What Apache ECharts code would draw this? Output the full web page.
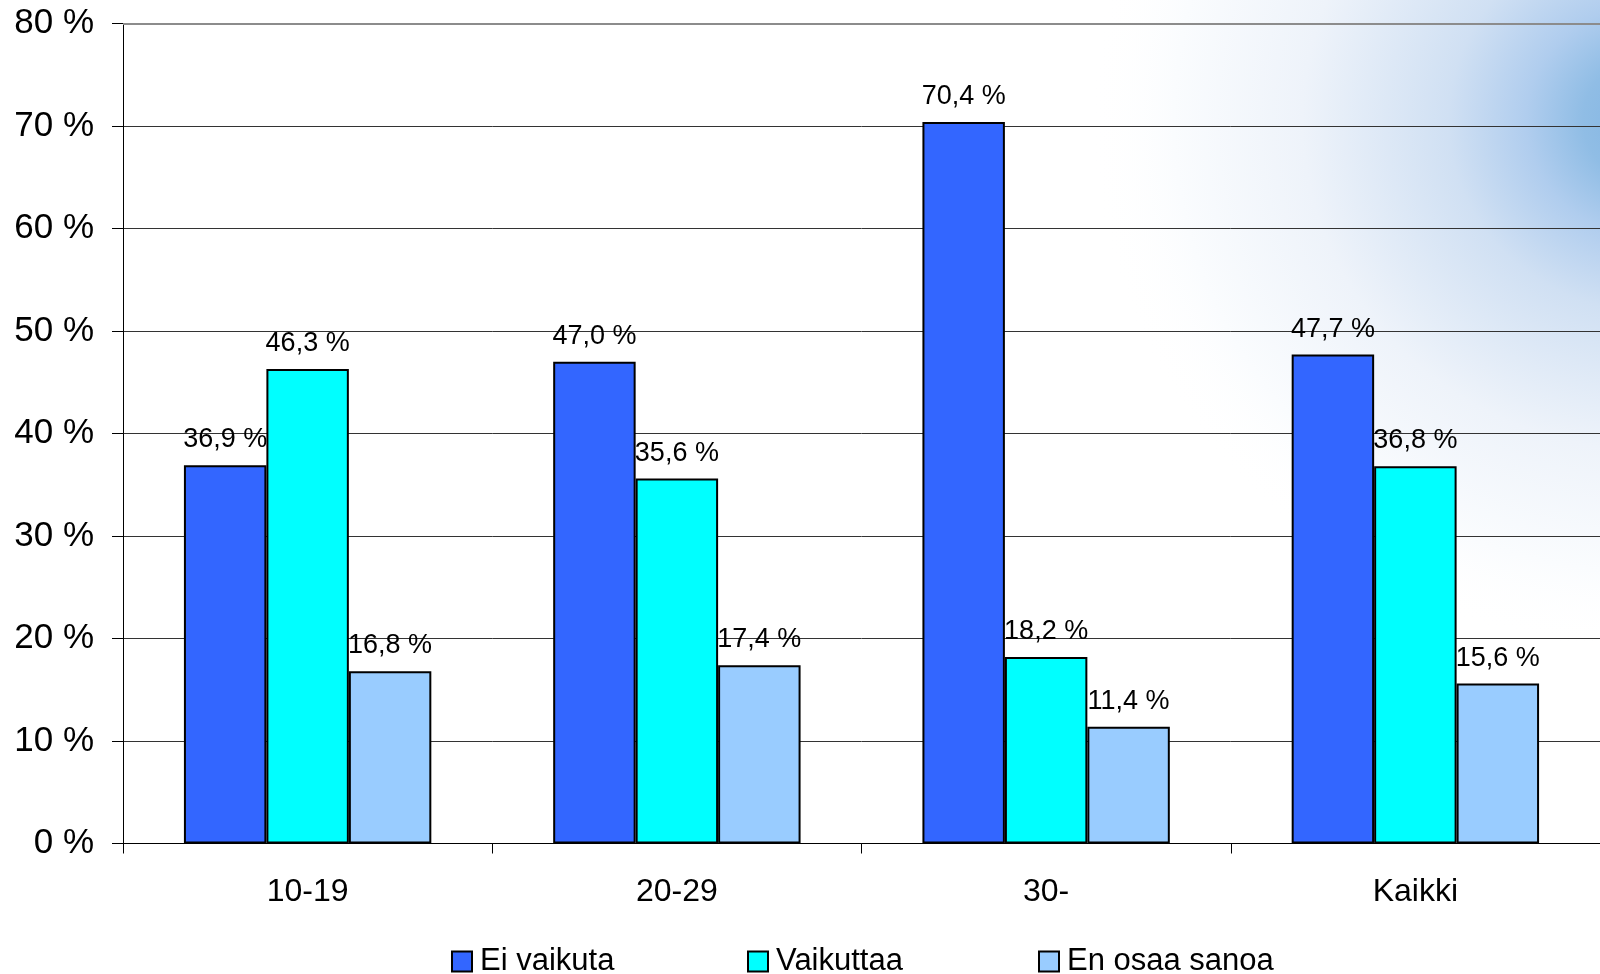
<!DOCTYPE html>
<html>
<head>
<meta charset="utf-8">
<script src="https://cdn.jsdelivr.net/npm/echarts@6/dist/echarts.min.js"></script>
<style>
html,body{margin:0;padding:0;background:#fff;}
#chart{width:1600px;height:974px;}
</style>
</head>
<body>
<div id="chart"></div>
<script>
const categories = ['10-19', '20-29', '30-', 'Kaikki'];
const seriesNames = ['Ei vaikuta', 'Vaikuttaa', 'En osaa sanoa'];
const eiVaikuta = [36.9, 47.0, 70.4, 47.7];
const vaikuttaa = [46.3, 35.6, 18.2, 36.8];
const enOsaaSanoa = [16.8, 17.4, 11.4, 15.6];
const yTicks = [0, 10, 20, 30, 40, 50, 60, 70, 80];

const colors = ['#3366FF', '#00FFFF', '#99CCFF'];
const values = [eiVaikuta, vaikuttaa, enOsaaSanoa];
const FONT = '"Liberation Sans", Arial, sans-serif';

const chart = echarts.init(document.getElementById('chart'), null, {renderer: 'canvas'});

const fmt = v => v.toFixed(1).replace('.', ',') + ' %';

const series = seriesNames.map((name, i) => ({
  name: name,
  type: 'bar',
  data: values[i],
  barGap: '0%',
  barCategoryGap: '33%',
  itemStyle: {color: colors[i], borderColor: '#000', borderWidth: 2},
  label: {
    show: true, position: 'top', distance: 12,
    formatter: p => fmt(p.value),
    color: '#000', fontFamily: FONT, fontSize: 27
  },
  markLine: i === 0 ? {
    silent: true, symbol: 'none', label: {show: false},
    lineStyle: {color: '#8c8c8c', width: 2, type: 'solid'},
    data: [{yAxis: yTicks[yTicks.length - 1]}]
  } : undefined
}));

const legendLefts = [451, 747, 1038];
const legends = seriesNames.map((name, i) => ({
  data: [name],
  left: legendLefts[i],
  top: 946,
  padding: 0,
  orient: 'horizontal',
  icon: 'rect',
  itemWidth: 20,
  itemHeight: 20,
  itemGap: 5,
  selectedMode: false,
  itemStyle: {borderColor: '#000', borderWidth: 2},
  textStyle: {color: '#000', fontFamily: FONT, fontSize: 31, padding: [0, 0, 0, 3]}
}));

chart.setOption({
  animation: false,
  backgroundColor: '#fff',
  graphic: [{
    type: 'rect',
    z: -100,
    silent: true,
    x: 1650, y: 120,
    scaleY: 0.95,
    shape: {x: -560, y: -560, width: 1120, height: 1120},
    style: {
      fill: {
        type: 'radial', x: 0.5, y: 0.5, r: 0.5,
        colorStops: [
          {offset: 0, color: '#80b4e2'},
          {offset: 0.12, color: '#90bde5'},
          {offset: 0.22, color: '#b0cdee'},
          {offset: 0.36, color: '#d0e0f3'},
          {offset: 0.62, color: '#eef3fa'},
          {offset: 0.85, color: '#fafcfe'},
          {offset: 1, color: 'rgba(255,255,255,0)'}
        ]
      }
    }
  }],
  grid: {left: 123, right: 0, top: 23.5, bottom: 130.5, containLabel: false},
  legend: legends,
  xAxis: {
    type: 'category',
    data: categories,
    axisLine: {lineStyle: {color: '#000', width: 1}},
    axisTick: {show: true, length: 10, lineStyle: {color: '#000'}},
    axisLabel: {color: '#000', fontFamily: FONT, fontSize: 32, margin: 33}
  },
  yAxis: {
    type: 'value',
    min: yTicks[0], max: yTicks[yTicks.length - 1], interval: 10,
    axisLine: {show: true, lineStyle: {color: '#000', width: 1}},
    axisTick: {show: true, length: 11, lineStyle: {color: '#000'}},
    axisLabel: {color: '#000', fontFamily: FONT, fontSize: 35, margin: 29,
      formatter: v => v + ' %'},
    splitLine: {show: true, lineStyle: {color: '#333', width: 1}}
  },
  series: series
});
</script>
</body>
</html>
